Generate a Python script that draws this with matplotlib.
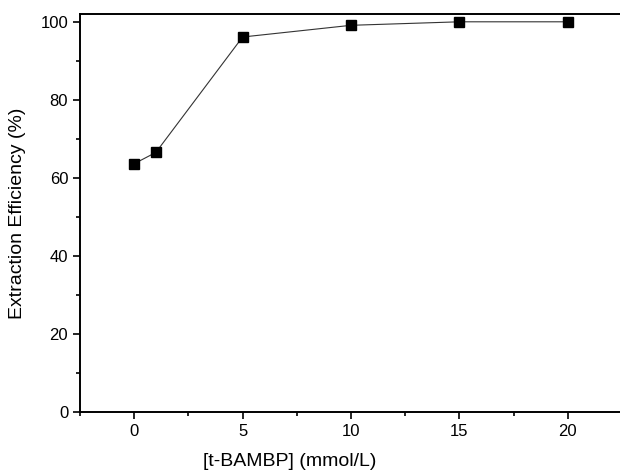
import matplotlib
matplotlib.use("Agg")
import matplotlib.pyplot as plt
from matplotlib.ticker import MultipleLocator

conc = [0, 1, 5, 10, 15, 20]
efficiency = [63.6, 66.5, 96.1, 99.1, 100.0, 100.0]

plt.rcParams['font.family'] = ['Liberation Sans', 'DejaVu Sans']

fig = plt.figure(figsize=(6.2, 4.73), dpi=100)
# axes run up to the right edge, as in the cropped original
ax = fig.add_axes([80 / 620, 61.3 / 473, 542 / 620, 397.7 / 473])

ax.plot(conc, efficiency, color='#333333', linewidth=0.8,
        marker='s', markersize=7, markerfacecolor='black',
        markeredgecolor='black', clip_on=False, zorder=5)

ax.set_xlim(-2.5, 22.5)
ax.set_ylim(0, 102)
ax.xaxis.set_major_locator(MultipleLocator(5))
ax.xaxis.set_minor_locator(MultipleLocator(2.5))
ax.yaxis.set_minor_locator(MultipleLocator(10))
ax.set_yticks([0, 20, 40, 60, 80, 100])

ax.tick_params(which='major', direction='out', length=5, width=1.2,
               labelsize=12, top=False, right=False)
ax.tick_params(which='minor', direction='out', length=3, width=1.2,
               top=False, right=False)
for s in ('left', 'bottom', 'top'):
    ax.spines[s].set_linewidth(1.4)
ax.spines['right'].set_visible(False)

ax.set_xlabel('[t-BAMBP] (mmol/L)', fontsize=14)
ax.set_ylabel('Extraction Efficiency (%)', fontsize=14)
ax.xaxis.set_label_coords(0.387, -0.105)
ax.yaxis.set_label_coords(-0.1, 0.5)

fig.savefig('out.png', dpi=100)
